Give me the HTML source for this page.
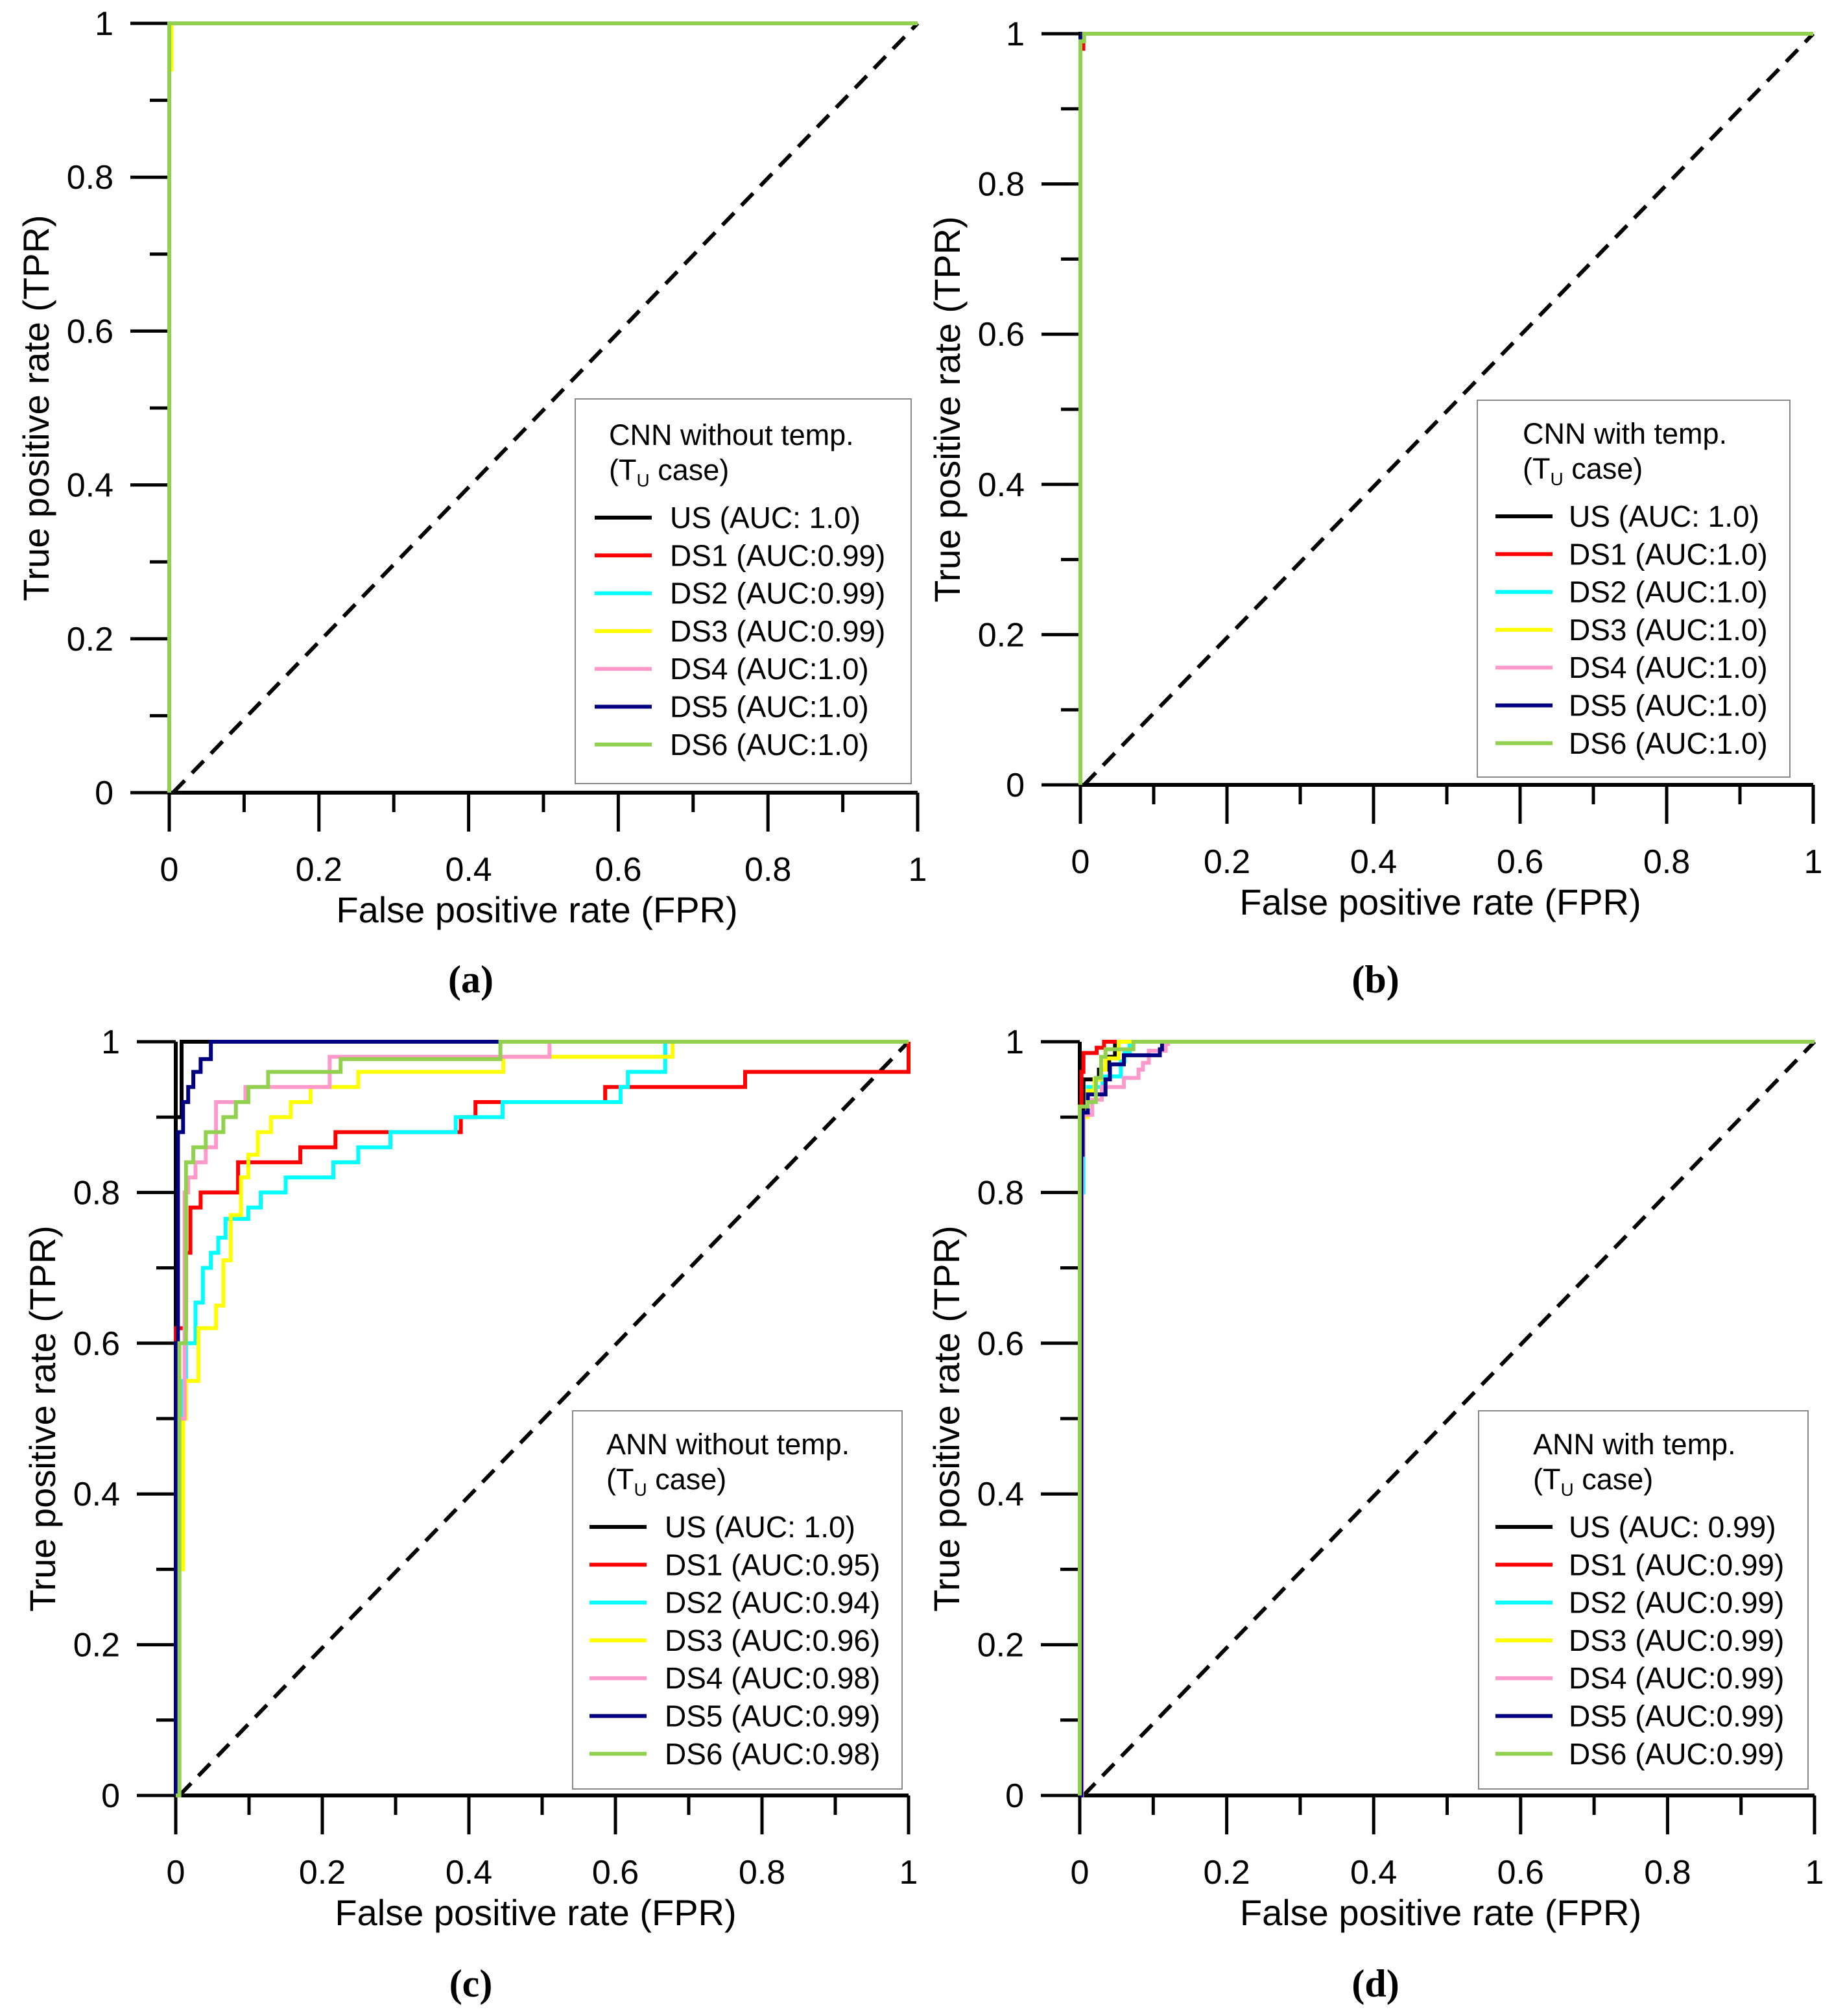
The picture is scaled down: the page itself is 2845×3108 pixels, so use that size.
<!DOCTYPE html>
<html><head><meta charset="utf-8">
<style>
html,body{margin:0;padding:0;background:#fff;}
svg{display:block;}
text{font-family:"Liberation Sans",Arial,sans-serif;fill:#000;}
</style></head>
<body>
<svg id="fig" xmlns="http://www.w3.org/2000/svg" width="2845" height="3108" viewBox="0 0 2845 3108"></svg>
<script>
// ---------- data ----------
const seriesNames = ["US","DS1","DS2","DS3","DS4","DS5","DS6"];
const seriesColors = ["#000000","#ff0000","#00ffff","#ffff00","#ff99cc","#000080","#92d050"];

// Panel (a) CNN without temp.
const aucA = ["1.0","0.99","0.99","0.99","1.0","1.0","1.0"];
const fprA = [[0,0,1],[0,0,1],[0,0,1],[0,0,0.003,1],[0,0,1],[0,0,1],[0,0,1]];
const tprA = [[0,1,1],[0,1,1],[0,1,1],[0,0.94,1,1],[0,1,1],[0,1,1],[0,1,1]];

// Panel (b) CNN with temp.
const aucB = ["1.0","1.0","1.0","1.0","1.0","1.0","1.0"];
const fprB = [[0,0,1],[0,0,0.004,1],[0,0,0.003,1],[0,0,0.003,1],[0,0,0.004,1],[0,0,0.003,1],[0,0,0.005,1]];
const tprB = [[0,1,1],[0,0.98,1,1],[0,0.99,1,1],[0,0.99,1,1],[0,0.99,1,1],[0,0.995,1,1],[0,0.99,1,1]];

// Panel (c) ANN without temp.
const aucC = ["1.0","0.95","0.94","0.96","0.98","0.99","0.98"];
const fprC = [
 [0,0,0.008,1],
 [0,0,0.014,0.014,0.02,0.034,0.085,0.17,0.218,0.389,0.409,0.586,0.777,1.0,1],
 [0,0.004,0.009,0.014,0.027,0.037,0.048,0.058,0.068,0.099,0.116,0.15,0.215,0.249,0.293,0.382,0.446,0.607,0.617,0.668,0.668,1],
 [0,0.003,0.01,0.014,0.031,0.055,0.065,0.075,0.089,0.099,0.112,0.13,0.157,0.184,0.249,0.447,0.678,0.678,1],
 [0,0.005,0.012,0.017,0.027,0.041,0.055,0.095,0.21,0.51,0.51,1],
 [0,0,0.003,0.01,0.017,0.024,0.034,0.048,1],
 [0,0.005,0.014,0.024,0.041,0.065,0.082,0.099,0.126,0.225,0.443,0.443,1]
];
const tprC = [
 [0,0.9,1,1],
 [0,0.62,0.62,0.72,0.78,0.8,0.84,0.86,0.88,0.9,0.92,0.94,0.96,0.965,1],
 [0,0.3,0.55,0.6,0.654,0.7,0.72,0.74,0.765,0.78,0.8,0.82,0.84,0.86,0.88,0.9,0.92,0.94,0.96,0.99,1,1],
 [0,0.3,0.5,0.55,0.62,0.65,0.71,0.77,0.82,0.85,0.88,0.9,0.92,0.94,0.96,0.98,0.99,1,1],
 [0,0.5,0.8,0.82,0.84,0.86,0.92,0.94,0.98,0.99,1,1],
 [0,0.6,0.88,0.92,0.94,0.96,0.977,1,1],
 [0,0.6,0.84,0.86,0.88,0.9,0.92,0.94,0.96,0.977,0.98,1,1]
];

// Panel (d) ANN with temp.
const aucD = [" 0.99","0.99","0.99","0.99","0.99","0.99","0.99"];
const fprD = [
 [0,0,0.005,0.026,0.04,0.048,1],
 [0,0,0.0024,0.005,0.023,0.033,1],
 [0,0.002,0.005,0.011,0.031,0.056,0.061,0.068,1],
 [0,0.002,0.003,0.011,0.02,0.029,0.035,0.053,1],
 [0,0.003,0.005,0.017,0.03,0.06,0.08,0.086,0.094,0.117,0.12,1],
 [0,0.002,0.004,0.011,0.035,0.041,0.06,0.109,0.112,1],
 [0,0,0.011,0.022,0.029,0.035,0.073,1]
];
const tprD = [
 [0,0.9,0.95,0.963,0.98,1,1],
 [0,0.914,0.96,0.985,0.992,1,1],
 [0,0.8,0.906,0.94,0.954,0.974,0.985,1,1],
 [0,0.85,0.9,0.935,0.95,0.963,0.978,1,1],
 [0,0.85,0.903,0.923,0.94,0.952,0.963,0.972,0.988,0.997,1,1],
 [0,0.85,0.906,0.93,0.95,0.97,0.982,0.99,1,1],
 [0,0.914,0.92,0.952,0.98,0.99,1,1]
];

const tickVals = [0,0.2,0.4,0.6,0.8,1];
const tickLabels = ["0","0.2","0.4","0.6","0.8","1"];
const minorVals = [0.1,0.3,0.5,0.7,0.9];

// ---------- layout ----------
const panels = [
 {id:"a", x0:261, x1:1415, y0:1222, y1:36, title:"CNN without temp.", auc:aucA, fpr:fprA, tpr:tprA,
  lg:{l:887,t:615,r:1405,b:1208,line:917,text:1033,row1:798,tx:939}, lab:{x:726,y:1530}},
 {id:"b", x0:1666, x1:2796, y0:1210, y1:52, title:"CNN with temp.", auc:aucB, fpr:fprB, tpr:tprB,
  lg:{l:2278,t:617,r:2760,b:1198,line:2306,text:2419,row1:796,tx:2348}, lab:{x:2121,y:1530}},
 {id:"c", x0:271, x1:1401, y0:2768, y1:1606, title:"ANN without temp.", auc:aucC, fpr:fprC, tpr:tprC,
  lg:{l:883,t:2175,r:1391,b:2758,line:909,text:1025,row1:2354,tx:935}, lab:{x:726,y:3078}},
 {id:"d", x0:1665, x1:2798, y0:2768, y1:1606, title:"ANN with temp.", auc:aucD, fpr:fprD, tpr:tprD,
  lg:{l:2280,t:2175,r:2788,b:2758,line:2306,text:2419,row1:2354,tx:2364}, lab:{x:2121,y:3078}}
];

const NS = "http://www.w3.org/2000/svg";
const svg = document.getElementById("fig");
function mk(tag, attrs, parent){
  const e = document.createElementNS(NS, tag);
  for (const k in attrs) e.setAttribute(k, attrs[k]);
  (parent||svg).appendChild(e);
  return e;
}

panels.forEach(p => {
  const g = mk("g", {});
  
  
  const sx = v => p.x0 + v*(p.x1-p.x0);
  const sy = v => p.y0 - v*(p.y0-p.y1);

  const ax = mk("path", {d:`M${p.x0} ${p.y1} V${p.y0} H${p.x1}`, fill:"none", stroke:"#000", "stroke-width":6}, g);
  
  

  tickVals.forEach((v, k) => {
    mk("line", {x1:p.x0-60, x2:p.x0, y1:sy(v), y2:sy(v), stroke:"#000", "stroke-width":5}, g);
    mk("line", {x1:sx(v), x2:sx(v), y1:p.y0, y2:p.y0+60, stroke:"#000", "stroke-width":5}, g);
    const yl = mk("text", {x:p.x0-86, y:sy(v)+18, "text-anchor":"end", "font-size":52}, g);
    yl.textContent = tickLabels[k];
    
    
    const xl = mk("text", {x:sx(v), y:p.y0+136, "text-anchor":"middle", "font-size":52}, g);
    xl.textContent = tickLabels[k];
    
    
  });
  minorVals.forEach(v => {
    mk("line", {x1:p.x0-30, x2:p.x0, y1:sy(v), y2:sy(v), stroke:"#000", "stroke-width":5}, g);
    mk("line", {x1:sx(v), x2:sx(v), y1:p.y0, y2:p.y0+30, stroke:"#000", "stroke-width":5}, g);
  });

  const diag = mk("line", {x1:sx(0.005), y1:sy(0), x2:sx(1), y2:sy(1), stroke:"#000", "stroke-width":6, "stroke-dasharray":"26 16"}, g);
  
  

  seriesNames.forEach((nm, i) => {
    const xs = p.fpr[i], ys = p.tpr[i];
    let d = "M" + sx(xs[0]).toFixed(1) + " " + sy(ys[0]).toFixed(1);
    for (let k = 1; k < xs.length; k++) {
      d += " H" + sx(xs[k]).toFixed(1) + " V" + sy(ys[k]).toFixed(1);
    }
    const path = mk("path", {d:d, fill:"none", stroke:seriesColors[i], "stroke-width":6, "stroke-linejoin":"miter"}, g);
    
    
  });

  const xt = mk("text", {x:(p.x0+p.x1)/2 - 10, y:p.y0+200, "text-anchor":"middle", "font-size":56}, g);
  xt.textContent = "False positive rate (FPR)";
  
  
  const cy = (p.y0+p.y1)/2;
  const yt = mk("text", {x:p.x0-186, y:cy, "text-anchor":"middle", "font-size":56, transform:`rotate(-90 ${p.x0-186} ${cy})`}, g);
  yt.textContent = "True positive rate (TPR)";
  
  

  const L = p.lg;
  const lg = mk("g", {}, g);
  
  
  mk("rect", {x:L.l, y:L.t, width:L.r-L.l, height:L.b-L.t, fill:"#fff", stroke:"#888", "stroke-width":2}, lg);
  const t1 = mk("text", {x:L.tx, y:L.row1-128+16, "font-size":45}, lg);
  t1.textContent = p.title;
  
  
  const t2 = mk("text", {x:L.tx, y:L.row1-74+16, "font-size":45}, lg);
  t2.innerHTML = '(T<tspan font-size="28" dy="10">U</tspan><tspan dy="-10"> case)</tspan>';
  
  
  seriesNames.forEach((nm, i) => {
    const yy = L.row1 + i*58.3;
    const ent = mk("g", {}, lg);
    
    
    mk("line", {x1:L.line, x2:L.line+88, y1:yy, y2:yy, stroke:seriesColors[i], "stroke-width":6}, ent);
    const tx = mk("text", {x:L.text, y:yy+16, "font-size":46}, ent);
    tx.textContent = nm + (i===0 ? " (AUC: " + p.auc[i].trim() + ")" : " (AUC:" + p.auc[i] + ")");
  });

  const lab = mk("text", {x:p.lab.x, y:p.lab.y, "text-anchor":"middle", "font-size":60, "font-weight":"bold", style:"font-family:'Liberation Serif',serif"}, g);
  lab.innerHTML = '(<tspan font-weight="bold">' + p.id + '</tspan>)';
  
  
});
</script>
</body></html>
